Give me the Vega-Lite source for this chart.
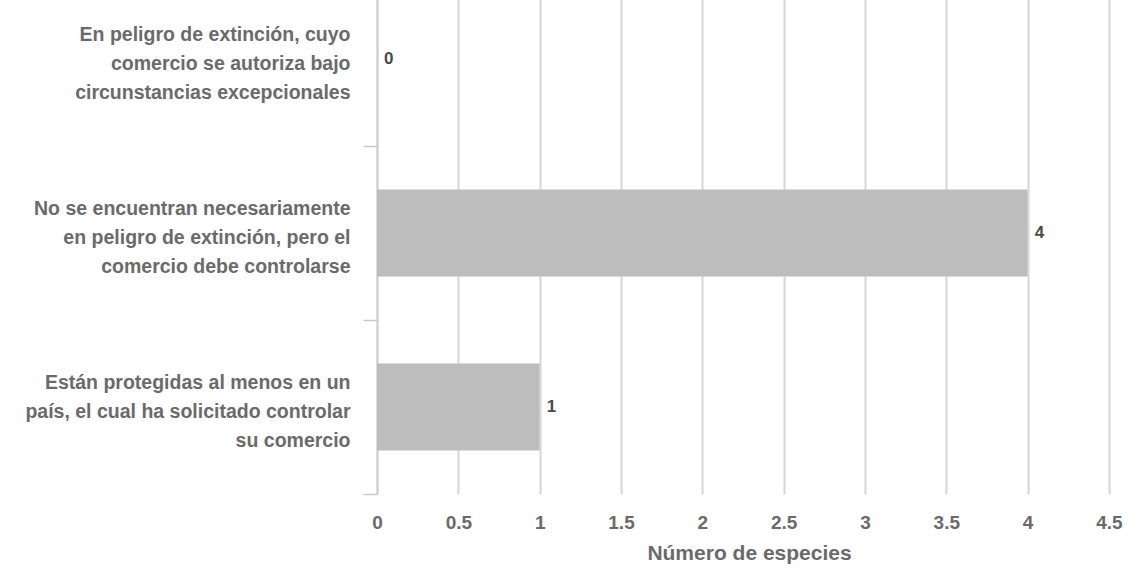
{
  "$schema": "https://vega.github.io/schema/vega-lite/v6.json",
  "width": 758,
  "height": 522,
  "autosize": "none",
  "padding": {"left": 377, "top": -28, "right": 0, "bottom": 90},
  "background": "white",
  "config": {"view": {"stroke": null}, "font": "Liberation Sans"},
  "data": {
    "values": [
      {"categoria": "En peligro de extinción, cuyo|comercio se autoriza bajo|circunstancias excepcionales ", "especies": 0},
      {"categoria": "No se encuentran necesariamente|en peligro de extinción, pero el|comercio debe controlarse ", "especies": 4},
      {"categoria": "Están protegidas al menos en un|país, el cual ha solicitado controlar|su comercio ", "especies": 1}
    ]
  },
  "encoding": {
    "y": {
      "field": "categoria",
      "type": "nominal",
      "sort": null,
      "scale": {"paddingInner": 0, "paddingOuter": 0},
      "axis": {
        "title": null,
        "labelExpr": "split(datum.label, '|')",
        "labelFontSize": 19.5,
        "labelFontWeight": "bold",
        "labelLineHeight": 29,
        "labelOffset": -25,
        "labelColor": "#6a6a6a",
        "labelLimit": 0,
        "labelPadding": 13,
        "tickSize": 14,
        "tickBand": "extent",
        "tickColor": "#c8c8c8",
        "tickWidth": 1.5,
        "domainColor": "#cfcfcf",
        "domainWidth": 2,
        "grid": false
      }
    }
  },
  "layer": [
    {
      "mark": {"type": "bar", "color": "#bdbdbd", "height": {"band": 0.5}},
      "encoding": {
        "x": {
          "field": "especies",
          "type": "quantitative",
          "scale": {"domain": [0, 4.66], "nice": false},
          "axis": {
            "values": [0, 0.5, 1, 1.5, 2, 2.5, 3, 3.5, 4, 4.5],
            "format": "~g",
            "grid": true,
            "gridColor": "#d6d6d6",
            "gridWidth": 2,
            "ticks": false,
            "domain": false,
            "labelFlush": false,
            "labelPadding": 19,
            "labelFontSize": 19,
            "labelFontWeight": "bold",
            "labelColor": "#6a6a6a",
            "title": "Número de especies",
            "titleFontSize": 21,
            "titleFontWeight": "bold",
            "titleColor": "#6a6a6a",
            "titlePadding": 10,
            "titleX": 372
          }
        }
      }
    },
    {
      "mark": {"type": "text", "align": "left", "baseline": "middle", "dx": 7, "fontSize": 17, "fontWeight": "bold", "color": "#4a4a4a"},
      "encoding": {
        "x": {"field": "especies", "type": "quantitative"},
        "text": {"field": "especies", "type": "quantitative"}
      }
    }
  ]
}
